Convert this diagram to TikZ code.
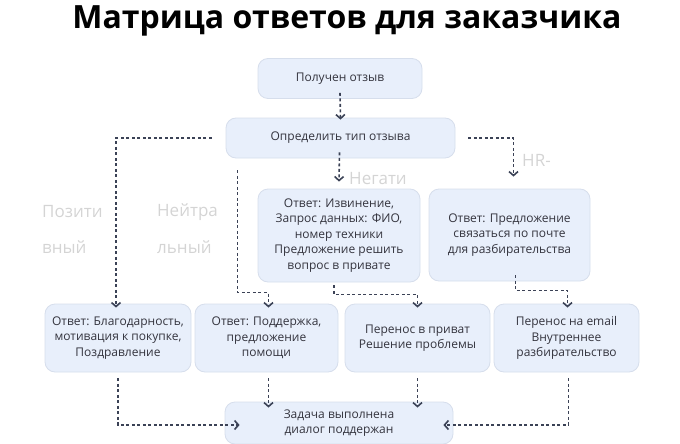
\documentclass[tikz,border=0pt]{standalone}
\usepackage{fontspec}
\setmainfont{Open Sans}
\usetikzlibrary{arrows.meta, calc, positioning}
\definecolor{boxfill}{HTML}{E8EFFB}
\definecolor{boxline}{HTML}{D6DEEC}
\definecolor{txt}{HTML}{34343E}
\definecolor{linec}{HTML}{3B4256}
\definecolor{faint}{HTML}{D4D4D4}

\tikzset{
  box/.style={draw=boxline, line width=0.8pt, fill=boxfill, rounded corners=10pt,
    align=center, text=txt, font=\fontsize{12}{15.5}\selectfont, inner sep=0pt},
  conn/.style={draw=linec, line width=1.6pt, dash pattern=on 3pt off 2.5pt,
    -{Straight Barb[length=4pt,width=9pt]}},
  faintlbl/.style={text=faint, font=\fontsize{17}{17}\selectfont, anchor=west, inner sep=0pt},
}

\begin{document}
\begin{tikzpicture}[x=1pt, y=-1pt]
    \useasboundingbox (0,0) rectangle (680,444);

    % заголовок
    \node[font=\fontsize{32}{32}\selectfont\bfseries] (title) at (347,21) {Матрица ответов для заказчика};

    % блоки
    \node[box, minimum width=164, minimum height=40] (recv) at (340,78.5) {Получен отзыв};
    \node[box, minimum width=229, minimum height=40] (typ) at (340.5,138) {Определить тип отзыва};
    \node[box, minimum width=162, minimum height=93] (neg) at (339,235.5)
        {Ответ: Извинение,\\Запрос данных: ФИО,\\номер техники\\Предложение решить\\вопрос в привате};
    \node[box, minimum width=161, minimum height=92] (hr) at (509.5,235)
        {Ответ: Предложение\\связаться по почте\\для разбирательства};
    \node[box, minimum width=146, minimum height=68] (pos) at (118,338)
        {Ответ: Благодарность,\\мотивация к покупке,\\Поздравление};
    \node[box, minimum width=143, minimum height=68] (neu) at (266.5,338)
        {Ответ: Поддержка,\\предложение\\помощи};
    \node[box, minimum width=145, minimum height=68] (priv) at (417.5,338)
        {Перенос в приват\\Решение проблемы};
    \node[box, minimum width=145, minimum height=68] (mail) at (566.5,338)
        {Перенос на email\\Внутреннее\\разбирательство};
    \node[box, minimum width=228, minimum height=42] (done) at (339,423)
        {Задача выполнена\\диалог поддержан};

    % подписи ветвей
    \node[faintlbl] (pos1) at (42,212) {Позити};
    \node[faintlbl] (pos2) at (42,247) {вный};
    \node[faintlbl] (neu1) at (157,212) {Нейтра};
    \node[faintlbl] (neu2) at (157,247) {льный};
    \node[faintlbl] (neg1) at (349,179) {Негати};
    \node[faintlbl] (hr1) at (522,160) {HR-};

    % стрелки
    \draw[conn] ([yshift=6pt]recv.south) -- ([yshift=-2pt]typ.north);
    \draw[conn] ([xshift=-1pt,yshift=6pt]typ.south) -- ([yshift=7pt]neg.north);
    \draw[conn] ([xshift=-14pt]typ.west) -| ([xshift=-2pt,yshift=-4pt]pos.north);
    \draw[conn] ([xshift=12pt,yshift=-12pt]typ.south west) |- ([xshift=2pt,yshift=11pt]neu.north)
        -- ([xshift=2pt,yshift=-4pt]neu.north);
    \draw[conn] ([xshift=13pt]typ.east) -| ([xshift=4pt,yshift=12pt]hr.north);
    \draw[conn] ([xshift=-5pt,yshift=-3pt]neg.south) |- ([yshift=9pt]priv.north)
        -- ([yshift=-4pt]priv.north);
    \draw[conn] ([xshift=6pt,yshift=6pt]hr.south) |- ([xshift=1pt,yshift=13pt]mail.north)
        -- ([xshift=1pt,yshift=-4pt]mail.north);

    % к итоговому блоку
    \draw[conn] ([yshift=-6pt]pos.south) |- ([xshift=15pt,yshift=-2pt]done.west);
    \draw[conn] ([xshift=2pt,yshift=-6pt]neu.south) -- ($(neu.south |- done.north)+(2,6)$);
    \draw[conn] ([yshift=-6pt]priv.south) -- ($(priv.south |- done.north)+(0,6)$);
    \draw[conn] ([xshift=2pt,yshift=-6pt]mail.south) |- ([xshift=-10pt,yshift=-2pt]done.east);
\end{tikzpicture}
\end{document}
